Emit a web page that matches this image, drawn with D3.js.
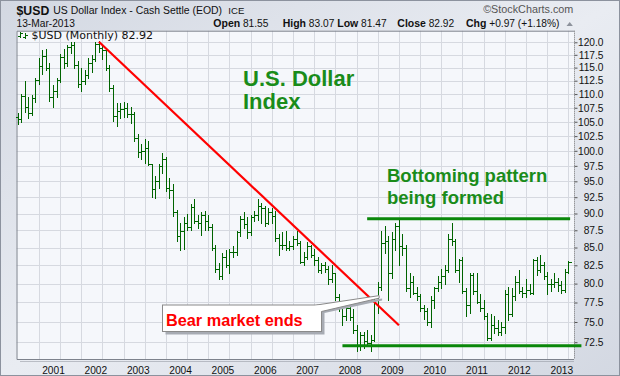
<!DOCTYPE html>
<html><head><meta charset="utf-8">
<script src="https://cdn.jsdelivr.net/npm/d3@7"></script>
<style>html,body{margin:0;padding:0;background:#fff;} svg{display:block;}</style>
</head><body>
<script>
// ---- data: monthly OHLC, first bar = Mar 2000 ----
const firstMonthOffset = -10; // month index relative to Jan 2001
const opens = [
105.8,105.4,109.6,107.6,106.6,109.2,112.6,115.4,117.2,115.0,
109.5,110.6,112.6,117.0,115.8,119.0,119.4,115.6,111.8,112.4,113.6,115.8,
116.6,119.6,118.8,118.4,115.0,111.2,106.0,107.0,107.2,107.4,106.4,106.4,
102.2,99.8,100.0,100.4,97.8,93.8,95.0,97.4,98.6,94.0,93.6,90.2,
86.6,87.4,88.6,88.0,91.0,88.8,88.6,89.8,88.8,88.0,85.0,82.0,
81.0,83.6,82.6,84.4,84.4,87.2,89.2,88.4,87.2,89.4,89.8,91.2,
90.8,88.6,90.2,89.6,86.4,85.4,85.4,85.0,85.2,86.2,85.6,83.0,
83.6,85.2,84.0,83.2,81.8,82.6,82.0,80.6,81.4,78.2,76.8,75.8,
76.8,75.6,74.0,72.2,73.4,72.6,72.4,72.8,77.8,79.6,85.6,86.0,
81.4,86.2,88.2,85.2,85.0,79.4,80.2,78.8,78.4,76.8,76.4,75.0,
77.8,79.4,80.2,81.0,81.8,86.2,86.0,81.8,83.2,79.0,77.2,81.2,
79.0,77.6,76.8,75.8,73.0,74.6,74.2,73.8,74.4,78.6,76.0,78.4,
80.2,79.0,78.8,79.2,78.8,83.2,81.8,82.6,81.0,80.0,80.0,80.2,
79.8,79.2,81.55];
const highs = [
106.6,110.0,112.4,109.4,109.8,113.0,116.8,118.4,118.6,115.8,
111.6,113.0,117.6,118.6,119.4,120.0,120.0,116.2,115.0,114.6,116.8,117.4,
120.0,120.2,119.2,118.6,115.6,111.6,108.4,108.4,108.6,108.4,107.6,106.8,
102.8,101.2,102.0,101.6,97.8,95.8,97.8,99.6,99.0,95.6,94.6,90.6,
88.6,89.4,90.0,91.4,92.2,89.8,90.2,90.4,89.8,88.4,85.4,82.8,
84.2,84.6,84.8,85.2,87.4,89.6,90.2,89.4,89.8,90.4,92.2,91.6,
91.2,90.8,90.8,90.4,87.0,87.2,87.4,86.0,86.6,87.4,86.0,84.4,
85.8,85.4,84.8,83.6,82.8,83.0,82.4,82.6,81.4,78.6,77.6,77.8,
77.4,76.6,74.6,73.8,73.8,74.0,73.4,78.2,80.2,87.4,88.2,86.6,
87.2,88.6,89.2,87.0,85.4,81.4,81.0,79.6,78.6,77.2,76.8,78.4,
79.6,81.0,82.0,82.6,87.0,88.6,86.2,83.4,83.6,79.4,81.4,81.4,
81.4,78.6,77.8,76.2,76.0,75.8,75.2,75.0,79.2,79.6,79.4,81.0,
81.8,79.6,80.6,80.0,83.4,83.6,84.0,83.0,81.6,80.6,81.4,80.8,
80.4,82.0,83.07];
const lows = [
104.6,105.0,106.8,105.6,106.2,108.6,111.8,113.8,114.6,108.8,
107.6,109.4,112.2,115.0,115.4,117.8,115.0,111.4,110.6,111.8,113.0,114.2,
116.2,118.0,116.6,114.6,110.6,105.2,104.2,105.6,105.8,105.8,104.8,101.6,
99.0,98.6,98.0,97.6,92.6,92.4,94.0,96.4,93.4,92.4,89.6,86.0,
84.6,84.8,87.6,87.6,88.6,87.8,86.8,87.6,87.6,84.6,81.6,80.6,
80.6,82.2,81.4,83.6,84.0,86.6,87.8,86.4,86.8,88.8,89.0,88.6,
88.2,88.4,88.6,86.0,84.0,84.8,84.6,84.6,84.8,85.4,82.8,82.6,
83.4,83.6,82.6,81.6,81.4,81.6,80.0,80.2,77.8,76.4,74.6,75.2,
75.2,73.6,71.4,71.6,71.8,72.0,71.4,72.6,76.2,79.2,84.2,77.8,
80.8,84.6,82.6,84.0,79.0,78.2,78.6,77.8,76.4,75.4,74.6,74.4,
76.8,79.0,79.4,80.0,81.6,85.4,81.6,80.2,78.8,75.8,76.2,78.6,
77.4,76.4,75.4,72.8,72.8,73.6,73.4,73.4,73.6,75.2,75.8,77.8,
78.8,78.2,78.2,78.6,78.6,81.2,81.6,80.6,78.6,79.0,79.6,79.0,
78.8,78.9,81.47];
const closes = [
105.4,109.6,107.6,106.6,109.2,112.6,115.4,117.2,115.0,109.5,
110.6,112.6,117.0,115.8,119.0,119.4,115.6,111.8,112.4,113.6,115.8,116.6,
119.6,118.8,118.4,115.0,111.2,106.0,107.0,107.2,107.4,106.4,106.4,102.2,
99.8,100.0,100.4,97.8,93.8,95.0,97.4,98.6,94.0,93.6,90.2,86.6,
87.4,88.6,88.0,91.0,88.8,88.6,89.8,88.8,88.0,85.0,82.0,81.0,
83.6,82.6,84.4,84.4,87.2,89.2,88.4,87.2,89.4,89.8,91.2,90.8,
88.6,90.2,89.6,86.4,85.4,85.4,85.0,85.2,86.2,85.6,83.0,83.6,
85.2,84.0,83.2,81.8,82.6,82.0,80.6,81.4,78.2,76.8,75.8,76.8,
75.6,74.0,72.2,73.4,72.6,72.4,72.8,77.8,79.6,85.6,86.0,81.4,
86.2,88.2,85.2,85.0,79.4,80.2,78.8,78.4,76.8,76.4,75.0,77.8,
79.4,80.2,81.0,81.8,86.2,86.0,81.8,83.2,79.0,77.2,81.2,79.0,
77.6,76.8,75.8,73.0,74.6,74.2,73.8,74.4,78.6,76.0,78.4,80.2,
79.0,78.8,79.2,78.8,83.2,81.8,82.6,81.0,80.0,80.0,80.2,79.8,
79.2,81.6,82.92];
const yTickValues = [72.5,75,77.5,80,82.5,85,87.5,90,92.5,95,97.5,100,102.5,105,107.5,110,112.5,115,117.5,120];
const yearLabels = ["2001","2002","2003","2004","2005","2006","2007","2008","2009","2010","2011","2012","2013"];
// annotation anchors (month index from Jan 2001, value)
const trendLine = [{m:13, v:120.1},{m:98, v:74.6}];
const resistance = {m0:89, m1:146.5, v:89.2};
const support = {m0:82, m1:149.7, v:72.07};
const callout = {m:92.4, v:78.4}; // tip of the callout pointer

const W = 620, H = 376;
const L = 16.5, R = 574, T = 30.7, B = 359;
const svg = d3.select("body").append("svg").attr("width", W).attr("height", H)
  .style("font-family", "'Liberation Sans', Arial, sans-serif");

const defs = svg.append("defs");
const bg = defs.append("linearGradient").attr("id","bg").attr("x1",0).attr("y1",0).attr("x2",1).attr("y2",1);
bg.append("stop").attr("offset","0%").attr("stop-color","#d3d8e2");
bg.append("stop").attr("offset","50%").attr("stop-color","#e9ecf2");
bg.append("stop").attr("offset","100%").attr("stop-color","#d3d8e2");

svg.append("rect").attr("x",0.5).attr("y",0.5).attr("width",W-1).attr("height",H-1)
  .attr("fill","url(#bg)").attr("stroke","#8c929e");

const x = d3.scaleLinear().domain([-10.34, 147.6]).range([L, R]);
const y = d3.scaleLog().domain([70.48, 122.36]).range([B, T]);

// plot background
svg.append("rect").attr("x",L).attr("y",T).attr("width",R-L).attr("height",B-T).attr("fill","#f5f7fb");

// grid
const g = svg.append("g");
const vlines = d3.range(-4, 148, 6);
g.selectAll("line.v").data(vlines).join("line")
  .attr("x1", d => Math.round(x(d))+0.5).attr("x2", d => Math.round(x(d))+0.5)
  .attr("y1", T).attr("y2", B)
  .attr("stroke", d => (d % 12 === 0) ? "#c3c7d0" : "#d6d9e0").attr("stroke-width",1);
g.selectAll("line.h").data(yTickValues).join("line")
  .attr("x1", L).attr("x2", R)
  .attr("y1", d => Math.round(y(d))+0.5).attr("y2", d => Math.round(y(d))+0.5)
  .attr("stroke", "#d6d9e0");

// plot border
svg.append("path").attr("d", `M${R},${T+0.5}H${L+0.5}V${B+0.5}H${R}`)
  .attr("fill","none").attr("stroke","#7d828c");
// right axis dotted
svg.append("line").attr("x1",R+0.5).attr("x2",R+0.5).attr("y1",T).attr("y2",B)
  .attr("stroke","#777").attr("stroke-dasharray","1,1");
// bottom dotted line
svg.append("line").attr("x1",L+4).attr("x2",R).attr("y1",B+2.5).attr("y2",B+2.5)
  .attr("stroke","#8a8f99").attr("stroke-dasharray","1,1");

// y axis ticks & labels
const yAxis = d3.axisRight(y).tickValues(yTickValues).tickSize(3).tickFormat(d3.format(".1f"));
const ya = svg.append("g").attr("transform", `translate(${R+0.5},0)`).call(yAxis);
ya.select(".domain").remove();
ya.selectAll(".tick line").attr("stroke","#555");
ya.selectAll(".tick text").attr("x", 29).attr("text-anchor","end")
  .style("font-family","'Liberation Sans', Arial, sans-serif").style("font-size","10.2px").attr("fill","#111");

// x axis labels
const xTickVals = yearLabels.map((d,i) => i*12);
const xAxis = d3.axisBottom(x).tickValues(xTickVals).tickSize(0).tickFormat((d,i) => yearLabels[i]);
const xa = svg.append("g").attr("transform", `translate(0,${B})`).call(xAxis);
xa.select(".domain").remove();
xa.selectAll(".tick text").attr("y", 7.5).attr("dy","0.71em")
  .style("font-family","'Liberation Sans', Arial, sans-serif").style("font-size","10.2px").attr("fill","#111");

// OHLC bars
const bars = opens.map((o,i) => ({m: i + firstMonthOffset, o, h: highs[i], l: lows[i], c: closes[i]}));
svg.append("g").attr("shape-rendering","crispEdges").selectAll("path").data(bars).join("path")
  .attr("d", d => {
    const px = Math.round(x(d.m)) + 0.5;
    const yo = Math.round(y(d.o)) + 0.5, yc = Math.round(y(d.c)) + 0.5;
    return `M${px},${Math.round(y(d.h))}V${Math.round(y(d.l))+1}M${px-3},${yo}H${px}M${px},${yc}H${px+3}`;
  })
  .attr("fill","none").attr("stroke","#006400").attr("stroke-width",1);

// trend line
const line = d3.line().x(d => x(d.m)).y(d => y(d.v));
svg.append("path").attr("d", line(trendLine)).attr("stroke","#ff0000").attr("stroke-width",2.2).attr("fill","none");
// resistance & support
svg.append("line").attr("x1",x(resistance.m0)).attr("x2",x(resistance.m1))
  .attr("y1",y(resistance.v)).attr("y2",y(resistance.v)).attr("stroke","#0a870a").attr("stroke-width",3);
svg.append("line").attr("x1",x(support.m0)).attr("x2",x(support.m1))
  .attr("y1",y(support.v)).attr("y2",y(support.v)).attr("stroke","#0a870a").attr("stroke-width",3);

// titles inside plot
const t1 = svg.append("text").attr("fill","#1a8c1a").style("font-weight","bold").style("font-size","22px");
t1.append("tspan").attr("x",243).attr("y",86).text("U.S. Dollar");
t1.append("tspan").attr("x",243).attr("y",109).text("Index");
const t2 = svg.append("text").attr("fill","#1a8c1a").style("font-weight","bold").style("font-size","18.5px");
t2.append("tspan").attr("x",387).attr("y",182).text("Bottoming pattern");
t2.append("tspan").attr("x",387).attr("y",204).text("being formed");

// callout
const tipX = x(callout.m), tipY = y(callout.v);
const bx0 = 162.5, by0 = 305, bx1 = 321.5, by1 = 331.5;
const cg = svg.append("g");
cg.append("rect").attr("x",bx0+3).attr("y",by0+3).attr("width",bx1-bx0).attr("height",by1-by0).attr("fill","#a7abb3");
cg.append("path").attr("d",`M${bx1-5+3},${by0+3}L${tipX+3},${tipY+3}L${tipX+3},${tipY+5}L${bx1+3},${by0+8}Z`).attr("fill","#a7abb3");
cg.append("rect").attr("x",bx0).attr("y",by0).attr("width",bx1-bx0).attr("height",by1-by0).attr("fill","#fff").attr("stroke","#8a8a8a");
cg.append("path").attr("d",`M${bx1-5},${by0}L${tipX},${tipY}L${tipX},${tipY+2.5}L${bx1},${by0+6.5}`).attr("fill","#fff").attr("stroke","#8a8a8a");
cg.append("rect").attr("x",bx1-6).attr("y",by0+0.5).attr("width",5.5).attr("height",6).attr("fill","#fff");
cg.append("text").attr("x",166).attr("y",325.5).attr("fill","#ff0000").style("font-weight","bold").style("font-size","16.3px").text("Bear market ends");

// legend
const lg = svg.append("g").attr("shape-rendering","crispEdges");
lg.append("path").attr("d","M20.5,32V38M18,36H20.5M20.5,33.5H23M25.5,33V39M23,37H25.5M25.5,35H28")
  .attr("stroke","#006400").attr("fill","none");
lg.append("text").attr("x",31.5).attr("y",39.3).style("font-family","'DejaVu Sans', Verdana, sans-serif").style("font-size","11px").attr("fill","#111")
  .text("$USD (Monthly) 82.92");

// header
svg.append("text").attr("x",16.5).attr("y",14.5).style("font-weight","bold").style("font-size","12.3px").attr("fill","#111").text("$USD");
svg.append("text").attr("x",53.3).attr("y",14.3).style("font-size","10.45px").attr("fill","#111").text("US Dollar Index - Cash Settle (EOD)");
svg.append("text").attr("x",228.3).attr("y",14.3).style("font-size","9.6px").attr("fill","#111").text("ICE");
svg.append("text").attr("x",16.5).attr("y",26.7).style("font-size","10.2px").attr("fill","#111").text("13-Mar-2013");
const stats = [["Open","81.55",213.3],["High","83.07",282.7],["Low","81.47",337.3],["Close","82.92",397.3],["Chg","+0.97 (+1.18%)",466]];
stats.forEach(s => {
  const lab = svg.append("text").attr("x",s[2]).attr("y",26.7).attr("fill","#111")
    .style("font-weight","bold").style("font-size","10.5px").text(s[0]);
  const wl = lab.node().getComputedTextLength();
  svg.append("text").attr("x",s[2] + wl + 2.8).attr("y",26.7).attr("fill","#111")
    .style("font-size","10.2px").text(s[1]);
});
svg.append("path").attr("d","M566.5,26L569.7,22L572.9,26Z").attr("fill","#8d929c");
svg.append("text").attr("x",573.3).attr("y",13.3).attr("text-anchor","end").style("font-size","10.8px").attr("fill","#555").text("\u00A9StockCharts.com");
</script>
</body></html>
